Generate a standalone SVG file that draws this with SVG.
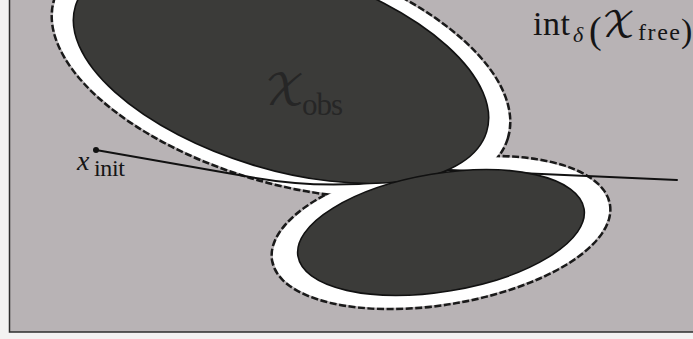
<svg xmlns="http://www.w3.org/2000/svg" width="693" height="339" viewBox="0 0 693 339">
<style>
.halo-edge{fill:none;stroke:#1a1a1a;stroke-width:5;stroke-dasharray:7 2.5}
.halo{fill:#ffffff}
.obs{fill:#3b3b39;stroke:#111;stroke-width:1.6}
.serif{font-family:"Liberation Serif","DejaVu Serif",serif}
.cal{font-family:"DejaVu Math TeX Gyre","DejaVu Serif","DejaVu Sans","Noto Sans",serif;font-style:normal}
.lbl{fill:#151515}
.path{fill:none;stroke:#111;stroke-width:2;stroke-linecap:round}
</style>
<rect x="0" y="0" width="693" height="339" fill="#f3f2f2"/>
<rect x="9.5" y="-2" width="690" height="334" fill="#b8b3b5" stroke="#2e2e2e" stroke-width="1.5"/>
<g id="halos">
<ellipse class="halo-edge" cx="281" cy="69" rx="236" ry="112" transform="rotate(17 281 69)"/>
<ellipse class="halo-edge" cx="441" cy="232.5" rx="170" ry="71" transform="rotate(-9.4 441 232.5)"/>
<ellipse class="halo" cx="281" cy="69" rx="236" ry="112" transform="rotate(17 281 69)"/>
<ellipse class="halo" cx="441" cy="232.5" rx="170" ry="71" transform="rotate(-9.4 441 232.5)"/>
</g>
<g id="connectors">
<path class="path" d="M96,150 L250,177 Q350,195 450,170 L677,180"/>
</g>
<g id="obstacle-large">
<ellipse class="obs" cx="281" cy="69" rx="215" ry="100" transform="rotate(17 281 69)"/>
<text class="cal" x="265" y="105" font-size="42" fill="#262626">𝒳</text>
<text class="serif" x="302" y="115" font-size="31" fill="#262626" textLength="41">obs</text>
</g>
<g id="obstacle-small">
<ellipse class="obs" cx="441" cy="232.5" rx="145" ry="59" transform="rotate(-9.4 441 232.5)"/>
</g>
<g id="x-init">
<circle cx="96" cy="150" r="3" fill="#111"/>
<text class="serif lbl" x="77" y="170" font-size="28" font-style="italic">x</text>
<text class="serif lbl" x="94" y="176" font-size="24" textLength="31">init</text>
</g>
<g id="free-space-label" class="lbl">
<text class="serif" x="533" y="35" font-size="34" textLength="37">int</text>
<text class="serif" x="573" y="42" font-size="22" font-style="italic">δ</text>
<text class="serif" x="589" y="43" font-size="38">(</text>
<text class="cal" x="602" y="37" font-size="35">𝒳</text>
<text class="serif" x="638" y="40" font-size="24" textLength="42">free</text>
<text class="serif" x="681" y="42" font-size="34">)</text>
</g>
</svg>
